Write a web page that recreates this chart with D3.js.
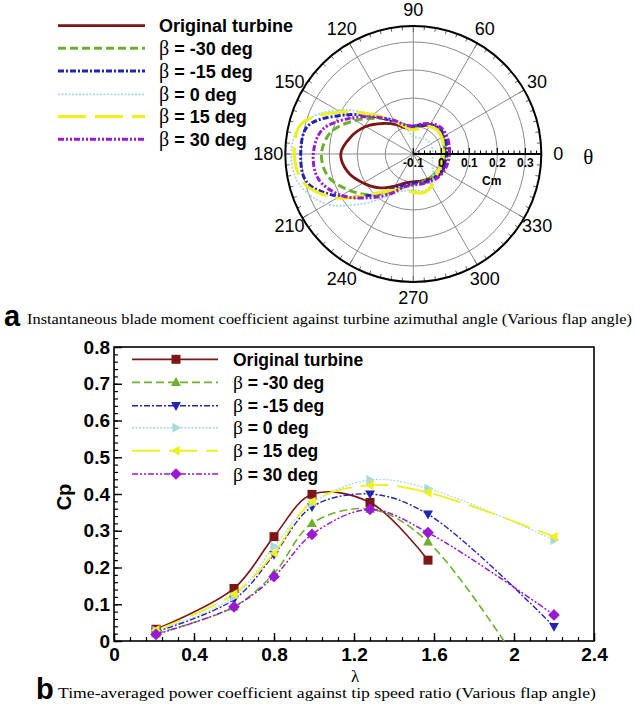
<!DOCTYPE html>
<html>
<head>
<meta charset="utf-8">
<script src="https://cdn.jsdelivr.net/npm/d3@7"></script>
<style>
html,body{margin:0;padding:0;background:#fff;}
svg{display:block;}
</style>
</head>
<body>
<script>
// ---------------- DATA ----------------
// Polar chart (a): blade moment coefficient Cm vs azimuth angle (deg)
const polarAngles = [0,15,30,45,60,75,90,105,120,135,150,165,180,195,210,225,240,255,270,285,300,315,330,345];
const cmOriginal = [0.011,0.016,0.023,0.027,0.018,0.004,-0.005,-0.004,0.021,0.054,0.096,0.132,0.159,0.143,0.107,0.071,0.032,0.007,-0.001,0.000,0.005,0.016,0.021,0.016];
const cmBetaM30  = [0.013,0.018,0.023,0.025,0.018,0.004,-0.004,0.007,0.038,0.080,0.139,0.204,0.228,0.214,0.161,0.107,0.057,0.021,0.007,0.005,0.004,0.005,0.007,0.011];
const cmBetaM15  = [0.019,0.023,0.029,0.030,0.021,0.007,0.000,0.004,0.032,0.089,0.179,0.289,0.302,0.293,0.204,0.107,0.043,0.014,0.004,0.007,0.011,0.014,0.018,0.018];
const cmBeta0    = [-0.029,-0.029,-0.029,-0.030,-0.036,-0.039,-0.039,-0.007,0.039,0.100,0.214,0.314,0.336,0.321,0.257,0.150,0.071,0.036,0.029,0.036,0.029,0.000,-0.021,-0.029];
const cmBeta15   = [0.007,0.011,0.018,0.021,0.014,-0.004,-0.014,0.000,0.036,0.096,0.200,0.314,0.325,0.304,0.214,0.100,0.050,0.032,0.036,0.043,0.032,0.014,0.007,0.007];
const cmBeta30   = [0.029,0.032,0.036,0.036,0.025,0.011,0.000,0.007,0.038,0.086,0.157,0.236,0.257,0.250,0.196,0.121,0.064,0.021,0.011,0.011,0.014,0.021,0.025,0.027];
const angleTickLabels = [0,30,60,90,120,150,180,210,240,270,300,330];
const cmTickLabels = [-0.1,0,0.1,0.2,0.3];

// Line chart (b): power coefficient Cp vs tip speed ratio
const lambda = [0.21,0.6,0.8,0.99,1.28,1.57,2.2];
const cpOriginal = [0.032,0.143,0.284,0.399,0.377,0.220];
const cpBetaM30  = [0.020,0.093,0.184,0.320,0.359,0.270,-0.21];
const cpBetaM15  = [0.025,0.113,0.235,0.365,0.400,0.345,0.039];
const cpBeta0    = [0.028,0.120,0.257,0.375,0.438,0.415,0.275];
const cpBeta15   = [0.030,0.128,0.239,0.379,0.424,0.404,0.284];
const cpBeta30   = [0.018,0.093,0.175,0.290,0.358,0.295,0.071];
const xTickLabels = [0,0.4,0.8,1.2,1.6,2,2.4];
const yTickLabels = [0,0.1,0.2,0.3,0.4,0.5,0.6,0.7,0.8];

const seriesNames = ["Original turbine","β = -30 deg","β = -15 deg","β = 0 deg","β = 15 deg","β = 30 deg"];

// ---------------- STYLES ----------------
const styles = [
  {color:"#7d1616", dash:null,              wP:2.8, wB:1.6, marker:"square"},
  {color:"#6cb02e", dash:"8,4",             wP:3,   wB:1.6, marker:"triUp"},
  {color:"#2323b4", dash:"6,2,2,2",         wP:3,   wB:1.4, marker:"triDown"},
  {color:"#a6dadd", dash:"2,1.5",           wP:1.8, wB:1.2, marker:"triRight"},
  {color:"#eef022", dash:"28,9",            wP:3.2, wB:1.8, marker:"triLeft"},
  {color:"#9a19d4", dash:"6,2,2,2,2,2",     wP:3,   wB:1.5, marker:"diamond"}
];
const cmSeries = [cmOriginal,cmBetaM30,cmBetaM15,cmBeta0,cmBeta15,cmBeta30];
const cpSeries = [cpOriginal,cpBetaM30,cpBetaM15,cpBeta0,cpBeta15,cpBeta30];

const svg = d3.select("body").append("svg").attr("width",635).attr("height",705)
  .style("font-family","'Liberation Sans', Arial, sans-serif");
svg.append("rect").attr("width",635).attr("height",705).attr("fill","#fff");

// ---------------- POLAR ----------------
const cx = 413.3, cy = 154, R = 128;
const rS = d3.scaleLinear().domain([-0.1, 0.357]).range([0, R]);
const pg = svg.append("g").attr("transform",`translate(${cx},${cy})`);
const rad = a => a*Math.PI/180;

// grid circles
pg.selectAll("circle.grid").data([0,0.1,0.2,0.3]).join("circle")
  .attr("r", d=>rS(d)).attr("fill","none").attr("stroke","#8a8a8a").attr("stroke-width",1);
// spokes
pg.selectAll("line.spoke").data(angleTickLabels.filter(a=>a!==0)).join("line")
  .attr("x1",0).attr("y1",0)
  .attr("x2",d=>R*Math.cos(rad(d))).attr("y2",d=>-R*Math.sin(rad(d)))
  .attr("stroke","#8a8a8a").attr("stroke-width",1);
// outer circle minor ticks every 5 deg
pg.selectAll("line.otick").data(d3.range(0,360,5)).join("line")
  .attr("x1",d=>R*Math.cos(rad(d))).attr("y1",d=>-R*Math.sin(rad(d)))
  .attr("x2",d=>(R-(d%30===0?6:4))*Math.cos(rad(d))).attr("y2",d=>-(R-(d%30===0?6:4))*Math.sin(rad(d)))
  .attr("stroke","#666").attr("stroke-width",1);

// curves
const lineR = d3.lineRadial()
  .angle(d=>rad(90-d[0]))
  .radius(d=>rS(d[1]))
  .curve(d3.curveCatmullRomClosed.alpha(0.5));
cmSeries.forEach((vals,i)=>{
  const st = styles[i];
  pg.append("path").datum(polarAngles.map((a,j)=>[a,vals[j]]))
    .attr("d",lineR).attr("fill","none").attr("stroke",st.color)
    .attr("stroke-width",st.wP).attr("stroke-dasharray",st.dash);
});

// outer circle
pg.append("circle").attr("r",R).attr("fill","none").attr("stroke","#000").attr("stroke-width",2);
// radial axis along 0 deg
pg.append("line").attr("x1",0).attr("y1",0).attr("x2",R).attr("y2",0).attr("stroke","#000").attr("stroke-width",2.2);
const minorCm = d3.range(-0.1,0.3501,0.02).filter(v=>!cmTickLabels.some(t=>Math.abs(t-v)<1e-6));
pg.selectAll("line.rminor").data(minorCm).join("line")
  .attr("x1",d=>rS(d)).attr("x2",d=>rS(d)).attr("y1",0).attr("y2",-3.5)
  .attr("stroke","#000").attr("stroke-width",1);
pg.selectAll("line.rmajor").data(cmTickLabels).join("line")
  .attr("x1",d=>rS(d)).attr("x2",d=>rS(d)).attr("y1",0).attr("y2",-6)
  .attr("stroke","#000").attr("stroke-width",1.2);
pg.selectAll("text.rlab").data(cmTickLabels).join("text")
  .attr("x",d=>rS(d)).attr("y",13)
  .attr("text-anchor","middle").attr("font-size",12).attr("font-weight","bold")
  .text(d=>d);
pg.append("text").attr("x",rS(0.18)).attr("y",31).attr("text-anchor","middle")
  .attr("font-size",12).attr("font-weight","bold").text("Cm");
// angle labels
pg.selectAll("text.alab").data(angleTickLabels).join("text")
  .attr("x",d=>(d===0?R+17:(d===180?-(R+17):143*Math.cos(rad(d)))))
  .attr("y",d=>-144*Math.sin(rad(d)))
  .attr("text-anchor","middle").attr("dominant-baseline","central")
  .attr("font-size",18).text(d=>d);
pg.append("text").attr("x",170).attr("y",3).attr("dominant-baseline","central")
  .attr("font-family","'Liberation Serif','Times New Roman',serif").attr("font-size",21).text("θ");

// polar legend
function legendLabel(sel, name, size){
  if(name.startsWith("β")){
    sel.append("tspan").attr("font-family","'Liberation Serif','Times New Roman',serif")
      .attr("font-weight","normal").attr("font-size",size+2).text("β");
    sel.append("tspan").attr("font-weight","bold").text(name.slice(1));
  } else {
    sel.append("tspan").attr("font-weight","bold").text(name);
  }
}
const legA = svg.append("g");
const legAY = [25.7,48.3,71,94.3,116.7,139.3];
seriesNames.forEach((n,i)=>{
  const st = styles[i];
  legA.append("line").attr("x1",58).attr("x2",145).attr("y1",legAY[i]).attr("y2",legAY[i])
    .attr("stroke",st.color).attr("stroke-width",st.wP).attr("stroke-dasharray",st.dash);
  const t = legA.append("text").attr("x",159).attr("y",legAY[i]+6.5).attr("font-size",18);
  legendLabel(t,n,18);
});

// caption a
svg.append("text").attr("x",4).attr("y",326).attr("font-size",29).attr("font-weight","bold").text("a");
svg.append("text").attr("x",27).attr("y",324)
  .attr("font-family","'Liberation Serif','Times New Roman',serif").attr("font-size",14.5)
  .attr("textLength",605).attr("lengthAdjust","spacingAndGlyphs")
  .text("Instantaneous blade moment coefficient against turbine azimuthal angle (Various flap angle)");

// ---------------- LINE CHART ----------------
const x = d3.scaleLinear().domain([0,2.4]).range([114,594]);
const y = d3.scaleLinear().domain([0,0.8]).range([641,347]);

svg.append("defs").append("clipPath").attr("id","plotclip")
  .append("rect").attr("x",114).attr("y",347).attr("width",480).attr("height",294);

const bg = svg.append("g");
// minor ticks
bg.append("g").attr("transform","translate(0,641)")
  .call(d3.axisBottom(x).tickValues(d3.range(0,2.4001,0.08)).tickSize(-4).tickFormat(""))
  .call(g=>g.select(".domain").remove()).selectAll("line").attr("stroke-width",1.2);
bg.append("g").attr("transform","translate(114,0)")
  .call(d3.axisLeft(y).tickValues(d3.range(0,0.8001,0.02)).tickSize(-4).tickFormat(""))
  .call(g=>g.select(".domain").remove()).selectAll("line").attr("stroke-width",1.2);
// major ticks + labels
const xa = bg.append("g").attr("transform","translate(0,641)")
  .call(d3.axisBottom(x).tickValues(xTickLabels).tickSize(-8).tickPadding(7).tickFormat(d3.format("~g")));
xa.select(".domain").remove();
xa.selectAll("line").attr("stroke-width",1.4);
xa.selectAll("text").attr("font-size",19).attr("font-weight","bold").attr("fill","#000")
  .attr("font-family","'Liberation Sans', Arial, sans-serif");
const ya = bg.append("g").attr("transform","translate(114,0)")
  .call(d3.axisLeft(y).tickValues(yTickLabels).tickSize(-8).tickPadding(4).tickFormat(d3.format("~g")));
ya.select(".domain").remove();
ya.selectAll("line").attr("stroke-width",1.4);
ya.selectAll("text").attr("font-size",19).attr("font-weight","bold").attr("fill","#000")
  .attr("font-family","'Liberation Sans', Arial, sans-serif");
// frame
bg.append("rect").attr("x",114).attr("y",347).attr("width",480).attr("height",294)
  .attr("fill","none").attr("stroke","#000").attr("stroke-width",1.6);

// markers
function markerPath(type, s){
  const h = s/2;
  switch(type){
    case "square": return `M${-h},${-h}H${h}V${h}H${-h}Z`;
    case "triUp": return `M0,${-h*1.15}L${h*1.1},${h*0.8}L${-h*1.1},${h*0.8}Z`;
    case "triDown": return `M0,${h*1.15}L${h*1.1},${-h*0.8}L${-h*1.1},${-h*0.8}Z`;
    case "triRight": return `M${h*1.15},0L${-h*0.8},${h*1.1}L${-h*0.8},${-h*1.1}Z`;
    case "triLeft": return `M${-h*1.15},0L${h*0.8},${h*1.1}L${h*0.8},${-h*1.1}Z`;
    case "diamond": return `M0,${-h*1.3}L${h*1.3},0L0,${h*1.3}L${-h*1.3},0Z`;
  }
}
const lineC = d3.line().x(d=>x(d[0])).y(d=>y(d[1])).curve(d3.curveCatmullRom.alpha(0.5));
const plot = svg.append("g").attr("clip-path","url(#plotclip)");
cpSeries.forEach((vals,i)=>{
  const st = styles[i];
  const pts = vals.map((v,j)=>[lambda[j],v]);
  plot.append("path").datum(pts).attr("d",lineC).attr("fill","none")
    .attr("stroke",st.color).attr("stroke-width",st.wB).attr("stroke-dasharray",st.dash);
});
cpSeries.forEach((vals,i)=>{
  const st = styles[i];
  plot.selectAll(null).data(vals.map((v,j)=>[lambda[j],v])).join("path")
    .attr("transform",d=>`translate(${x(d[0])},${y(d[1])})`)
    .attr("d",markerPath(st.marker,9)).attr("fill",st.color);
});

// legend b
const legB = svg.append("g");
const legBY = [359.3,382.3,405.7,427.7,450.7,474];
seriesNames.forEach((n,i)=>{
  const st = styles[i];
  legB.append("line").attr("x1",132).attr("x2",218).attr("y1",legBY[i]).attr("y2",legBY[i])
    .attr("stroke",st.color).attr("stroke-width",st.wB+0.2).attr("stroke-dasharray",st.dash);
  legB.append("path").attr("transform",`translate(176,${legBY[i]})`)
    .attr("d",markerPath(st.marker,9)).attr("fill",st.color);
  const t = legB.append("text").attr("x",233).attr("y",legBY[i]+6.5).attr("font-size",17.5);
  legendLabel(t,n,17.5);
});

// axis titles
svg.append("text").attr("transform","translate(71,497) rotate(-90)")
  .attr("text-anchor","middle").attr("font-size",20).attr("font-weight","bold").text("Cp");
svg.append("text").attr("x",355).attr("y",682).attr("text-anchor","middle")
  .attr("font-family","'Liberation Serif','Times New Roman',serif").attr("font-size",17).text("λ");

// caption b
svg.append("text").attr("x",36).attr("y",699).attr("font-size",29).attr("font-weight","bold").text("b");
svg.append("text").attr("x",58).attr("y",698)
  .attr("font-family","'Liberation Serif','Times New Roman',serif").attr("font-size",14.5)
  .attr("textLength",538).attr("lengthAdjust","spacingAndGlyphs")
  .text("Time-averaged power coefficient against tip speed ratio (Various flap angle)");
</script>
</body>
</html>
